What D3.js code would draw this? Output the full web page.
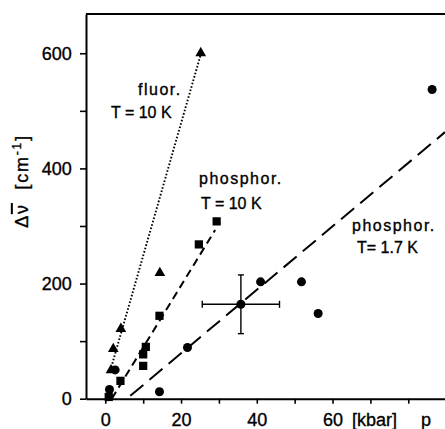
<!DOCTYPE html>
<html>
<head>
<meta charset="utf-8">
<script src="https://cdn.jsdelivr.net/npm/d3@7"></script>
<style>
  html, body { margin: 0; padding: 0; background: #fff; }
  svg { display: block; }
  text { font-family: "Liberation Sans", Arial, sans-serif; fill: #000; stroke: #000; stroke-width: 0.35px; }
</style>
</head>
<body>
<svg id="chart" width="445" height="429"></svg>
<script>
// ---- data (pressure p in kbar, shift in cm^-1) ----
const fluorP   = [1.5, 2.1, 4.1, 14.4, 25.2];
const fluorV   = [52, 89, 124, 221, 603];
const phos10P  = [0.9, 4.0, 10.0, 10.0, 10.7, 14.3, 24.7, 29.4];
const phos10V  = [3, 31, 57, 77, 90, 144, 268, 308];
const phos17P  = [1.1, 2.6, 14.3, 21.7, 35.8, 41.0, 51.8, 56.2, 86.3];
const phos17V  = [16, 50, 12, 89, 164, 203, 203, 148, 537];
// error bar on one phosphor 1.7 K point
const errP = [35.8], errV = [164], errDP = [10.2], errDV = [51];
// fitted lines (endpoints)
const fitFluorP = [1.6, 25.2],  fitFluorV = [55, 598];
const fitP10P   = [1.7, 29.0],  fitP10V   = [0, 293];
const fitP17P   = [6.6, 89.7],  fitP17V   = [5, 463];
// ticks
const yTicks = [0, 100, 200, 300, 400, 500, 600];
const yLabels = {0: "0", 200: "200", 400: "400", 600: "600"};
const xTicks = [0, 10, 20, 30, 40, 50, 60, 70, 80];
const xLabels = {0: "0", 20: "20", 40: "40", 60: "60"};

const svg = d3.select("#chart");
const x = d3.scaleLinear().domain([-5.1, 89.7]).range([86, 445]);
const y = d3.scaleLinear().domain([0, 668.2]).range([398.7, 14]);

// frame: top line
svg.append("line").attr("x1", 86).attr("x2", 445).attr("y1", 14).attr("y2", 14)
  .attr("stroke", "#000").attr("stroke-width", 2);

// y axis
const yAxis = d3.axisLeft(y).tickValues(yTicks).tickSize(6).tickSizeOuter(0)
  .tickPadding(8.3).tickFormat(d => yLabels[d] || "");
const gy = svg.append("g").attr("transform", `translate(${x.range()[0]},0)`).call(yAxis);
gy.select(".domain").attr("stroke-width", 2);
gy.selectAll(".tick line").attr("stroke-width", 1.6);
gy.selectAll("text").attr("font-size", 18).attr("font-family", "Liberation Sans, Arial, sans-serif");

// x axis
const xAxis = d3.axisBottom(x).tickValues(xTicks).tickSize(5).tickSizeOuter(0)
  .tickFormat(d => xLabels[d] || "");
const gx = svg.append("g").attr("transform", `translate(0,${y(0)})`).call(xAxis);
gx.select(".domain").attr("stroke-width", 2);
gx.selectAll(".tick line").attr("stroke-width", 1.6);
gx.selectAll("text").attr("font-size", 18).attr("dy", null).attr("y", 27.5)
  .attr("font-family", "Liberation Sans, Arial, sans-serif");
svg.append("text").attr("x", 352).attr("y", y(0) + 27.5).attr("font-size", 18).text("[kbar]");
svg.append("text").attr("x", 421).attr("y", y(0) + 27.5).attr("font-size", 18).text("p");

// y axis label
const yl = svg.append("text").attr("transform", "translate(28,181) rotate(-90)")
  .attr("text-anchor", "middle").attr("font-size", 18).attr("letter-spacing", 1.8);
yl.append("tspan").text("\u0394");
yl.append("tspan").attr("text-decoration", "overline").text("\u03BD");
yl.append("tspan").text("\u00A0\u00A0[cm");
yl.append("tspan").attr("baseline-shift", "super").attr("font-size", 12).text("-1");
yl.append("tspan").text("]");

// fit lines
const line = d3.line().x(d => x(d[0])).y(d => y(d[1]));
function fit(P, V, dash, w) {
  svg.append("path").datum(P.map((p, i) => [p, V[i]])).attr("d", line)
    .attr("fill", "none").attr("stroke", "#000").attr("stroke-width", w)
    .attr("stroke-dasharray", dash);
}
fit(fitFluorP, fitFluorV, "1.6,1.9", 1.9);
fit(fitP10P, fitP10V, "8,5", 2);
fit(fitP17P, fitP17V, "17,8", 2);

// error bars
errP.forEach((p, i) => {
  const cx = x(p), cy = y(errV[i]);
  const g = svg.append("g").attr("stroke", "#000").attr("stroke-width", 1.4);
  g.append("line").attr("x1", x(p - errDP[i])).attr("x2", x(p + errDP[i])).attr("y1", cy).attr("y2", cy);
  g.append("line").attr("x1", cx).attr("x2", cx).attr("y1", y(errV[i] - errDV[i])).attr("y2", y(errV[i] + errDV[i]));
  g.append("line").attr("x1", x(p - errDP[i])).attr("x2", x(p - errDP[i])).attr("y1", cy - 3.5).attr("y2", cy + 3.5);
  g.append("line").attr("x1", x(p + errDP[i])).attr("x2", x(p + errDP[i])).attr("y1", cy - 3.5).attr("y2", cy + 3.5);
  g.append("line").attr("x1", cx - 3).attr("x2", cx + 3).attr("y1", y(errV[i] - errDV[i])).attr("y2", y(errV[i] - errDV[i]));
  g.append("line").attr("x1", cx - 3).attr("x2", cx + 3).attr("y1", y(errV[i] + errDV[i])).attr("y2", y(errV[i] + errDV[i]));
});

// markers
svg.append("g").selectAll("path").data(fluorP.map((p, i) => [p, fluorV[i]])).join("path")
  .attr("d", d3.symbol(d3.symbolTriangle, 50))
  .attr("transform", d => `translate(${x(d[0])},${y(d[1]) + 1.5})`).attr("fill", "#000");
svg.append("g").selectAll("path").data(phos10P.map((p, i) => [p, phos10V[i]])).join("path")
  .attr("d", d3.symbol(d3.symbolSquare, 68))
  .attr("transform", d => `translate(${x(d[0])},${y(d[1])})`).attr("fill", "#000");
svg.append("g").selectAll("circle").data(phos17P.map((p, i) => [p, phos17V[i]])).join("circle")
  .attr("cx", d => x(d[0])).attr("cy", d => y(d[1])).attr("r", 4.5).attr("fill", "#000");

// annotations
function label(tx, ty, s, ls) {
  svg.append("text").attr("x", tx).attr("y", ty).attr("font-size", 16)
    .attr("letter-spacing", ls).text(s);
}
label(138, 94.5, "fluor.", 1.5);
label(111, 118, "T = 10 K", 0);
label(199, 183.5, "phosphor.", 1.5);
label(201, 209, "T = 10 K", 0);
label(352, 230.7, "phosphor.", 1.5);
label(357, 252.7, "T= 1.7 K", 0);
</script>
</body>
</html>
